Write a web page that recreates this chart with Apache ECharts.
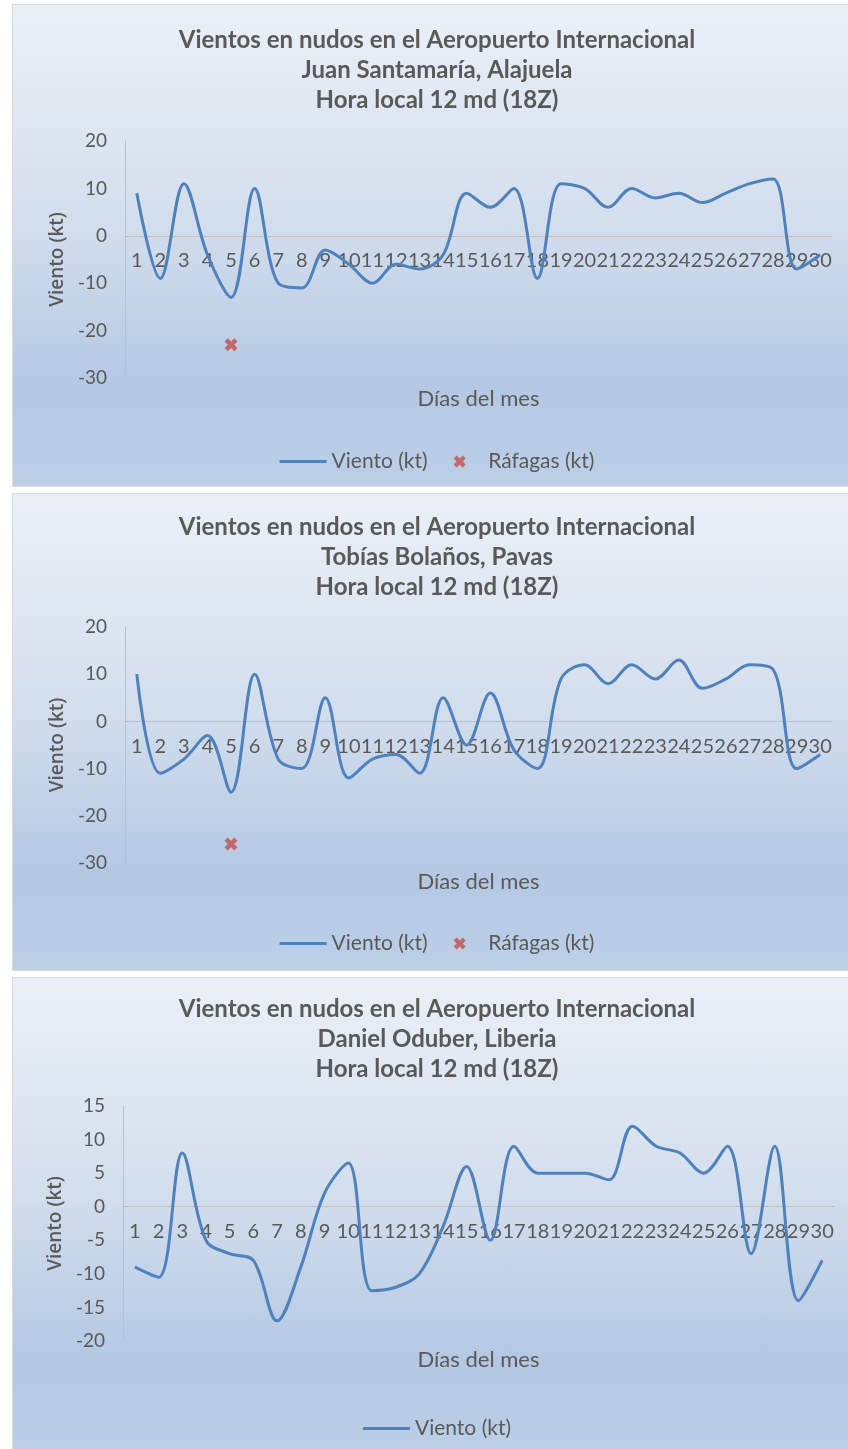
<!DOCTYPE html>
<html><head><meta charset="utf-8">
<script src="https://cdn.jsdelivr.net/npm/echarts@6/dist/echarts.min.js"></script>
<style>
html,body{margin:0;padding:0;width:848px;height:1449px;overflow:hidden;background:#ffffff;}
.panel{position:absolute;left:12px;width:850px;border:1px solid #d9d9d9;box-sizing:border-box;
background:linear-gradient(180deg,#ebf0f7 0%,#d3deed 45%,#b4c8e3 80%,#bccfe7 100%);}
</style></head><body>
<div id="p1" class="panel" style="top:4px;height:483px"></div>
<div id="p2" class="panel" style="top:493px;height:478px"></div>
<div id="p3" class="panel" style="top:977px;height:480px"></div>
<script>
// Tick labels (days of the month)
const days = ['1','2','3','4','5','6','7','8','9','10','11','12','13','14','15',
              '16','17','18','19','20','21','22','23','24','25','26','27','28','29','30'];

// Juan Santamaría, Alajuela
const vientoJuanSantamaria = [9,-9,11,-4,-13,10,-10,-11,-3,-6,-10,-6,-7,-4,9,6,10,-9,11,10,6,10,8,9,7,9,11,12,-7,-4];
const rafagasJuanSantamaria = [null,null,null,null,-23,null,null,null,null,null,null,null,null,null,null,
                               null,null,null,null,null,null,null,null,null,null,null,null,null,null,null];

// Tobías Bolaños, Pavas
const vientoTobiasBolanos = [10,-11,-8,-3,-15,10,-8,-10,5,-12,-8,-7,-11,5,-5,6,-6,-10,9,12,8,12,9,13,7,9,12,11,-10,-7];
const rafagasTobiasBolanos = [null,null,null,null,-26,null,null,null,null,null,null,null,null,null,null,
                              null,null,null,null,null,null,null,null,null,null,null,null,null,null,null];

// Daniel Oduber, Liberia
const vientoDanielOduber = [-9,-10.5,8,-5,-7,-8,-17,-9,2,6.5,-12.5,-12,-10,-3,6,-5,9,5,5,5,4,12,9,8,5,9,-7,9,-14,-8];

const GREY = '#595959';
const XPATH = 'path://M0,3 L3,0 L6,3 L9,0 L12,3 L9,6 L12,9 L9,12 L6,9 L3,12 L0,9 L3,6 Z';
const LINEICON = 'path://M0,0 L47,0 L47,3 L0,3 Z';

function makeOption(c) {
  const series = [{
    name: 'Viento (kt)', type: 'line', data: c.wind, smooth: 0.35, symbol: 'none', showSymbol: false,
    lineStyle: {color: '#4f81bd', width: 3}, itemStyle: {color: '#4f81bd'}
  }];
  const legendData = [{name: 'Viento (kt)', icon: LINEICON}];
  if (c.gust) {
    series.push({
      name: 'Ráfagas (kt)', type: 'scatter', data: c.gust, symbol: XPATH, symbolSize: 13,
      itemStyle: {color: '#c0504d'}
    });
    legendData.push({name: 'Ráfagas (kt)', icon: XPATH});
  }
  // the category axis crosses the value axis at 0
  const zeroOffset = -c.gh * (0 - c.min) / (c.max - c.min);
  return {
    animation: false,
    title: {
      text: c.title, left: 'center', top: c.titleTop, padding: 0,
      textStyle: {fontFamily: 'Lato', fontWeight: 'bold', fontSize: 24, lineHeight: 30, color: GREY}
    },
    legend: {
      data: legendData, left: 'center', top: c.legendTop, itemWidth: 47, itemHeight: 12, itemGap: 26,
      textStyle: {fontFamily: 'Lato', fontSize: 21, color: GREY}
    },
    grid: {left: c.gl, right: c.gr, top: c.gt, height: c.gh},
    xAxis: [{
      type: 'category', data: days, boundaryGap: true, position: 'bottom', offset: zeroOffset,
      axisLine: {show: true, onZero: false, lineStyle: {color: '#bfbfbf', width: 1}},
      axisTick: {show: false},
      axisLabel: {interval: 0, margin: 15, fontFamily: 'Lato', fontSize: 20, color: GREY, hideOverlap: false}
    }, {
      type: 'category', data: days, position: 'bottom', boundaryGap: true, offset: 0,
      axisLine: {show: false, onZero: false}, axisTick: {show: false}, axisLabel: {show: false},
      name: 'Días del mes', nameLocation: 'middle', nameGap: c.xNameGap,
      nameTextStyle: {fontFamily: 'Lato', fontSize: 22, color: GREY}
    }],
    yAxis: {
      type: 'value', min: c.min, max: c.max, interval: c.interval,
      axisLine: {show: true, onZero: false, lineStyle: {color: '#bfbfbf', width: 1}},
      axisTick: {show: false}, splitLine: {show: false},
      axisLabel: {fontFamily: 'Lato', fontSize: 19, color: GREY, margin: 18},
      name: 'Viento (kt)', nameLocation: 'middle', nameGap: 58,
      nameTextStyle: {fontFamily: 'Open Sans', fontWeight: 600, fontSize: 19, color: GREY}
    },
    series: series
  };
}

const cfgs = [
  {id: 'p1', title: 'Vientos en nudos en el Aeropuerto Internacional\nJuan Santamaría, Alajuela\nHora local 12 md (18Z)',
   titleTop: 20, legendTop: 441, gl: 112, gr: 29, gt: 136, gh: 237, xNameGap: 10,
   min: -30, max: 20, interval: 10, wind: vientoJuanSantamaria, gust: rafagasJuanSantamaria},
  {id: 'p2', title: 'Vientos en nudos en el Aeropuerto Internacional\nTobías Bolaños, Pavas\nHora local 12 md (18Z)',
   titleTop: 18, legendTop: 434, gl: 112, gr: 29, gt: 133, gh: 236, xNameGap: 8,
   min: -30, max: 20, interval: 10, wind: vientoTobiasBolanos, gust: rafagasTobiasBolanos},
  {id: 'p3', title: 'Vientos en nudos en el Aeropuerto Internacional\nDaniel Oduber, Liberia\nHora local 12 md (18Z)',
   titleTop: 16, legendTop: 435, gl: 110, gr: 27, gt: 128, gh: 235, xNameGap: 8,
   min: -20, max: 15, interval: 5, wind: vientoDanielOduber, gust: null}
];

cfgs.forEach(function (c) {
  const chart = echarts.init(document.getElementById(c.id), null, {renderer: 'canvas'});
  chart.setOption(makeOption(c));
});
</script>
</body></html>
